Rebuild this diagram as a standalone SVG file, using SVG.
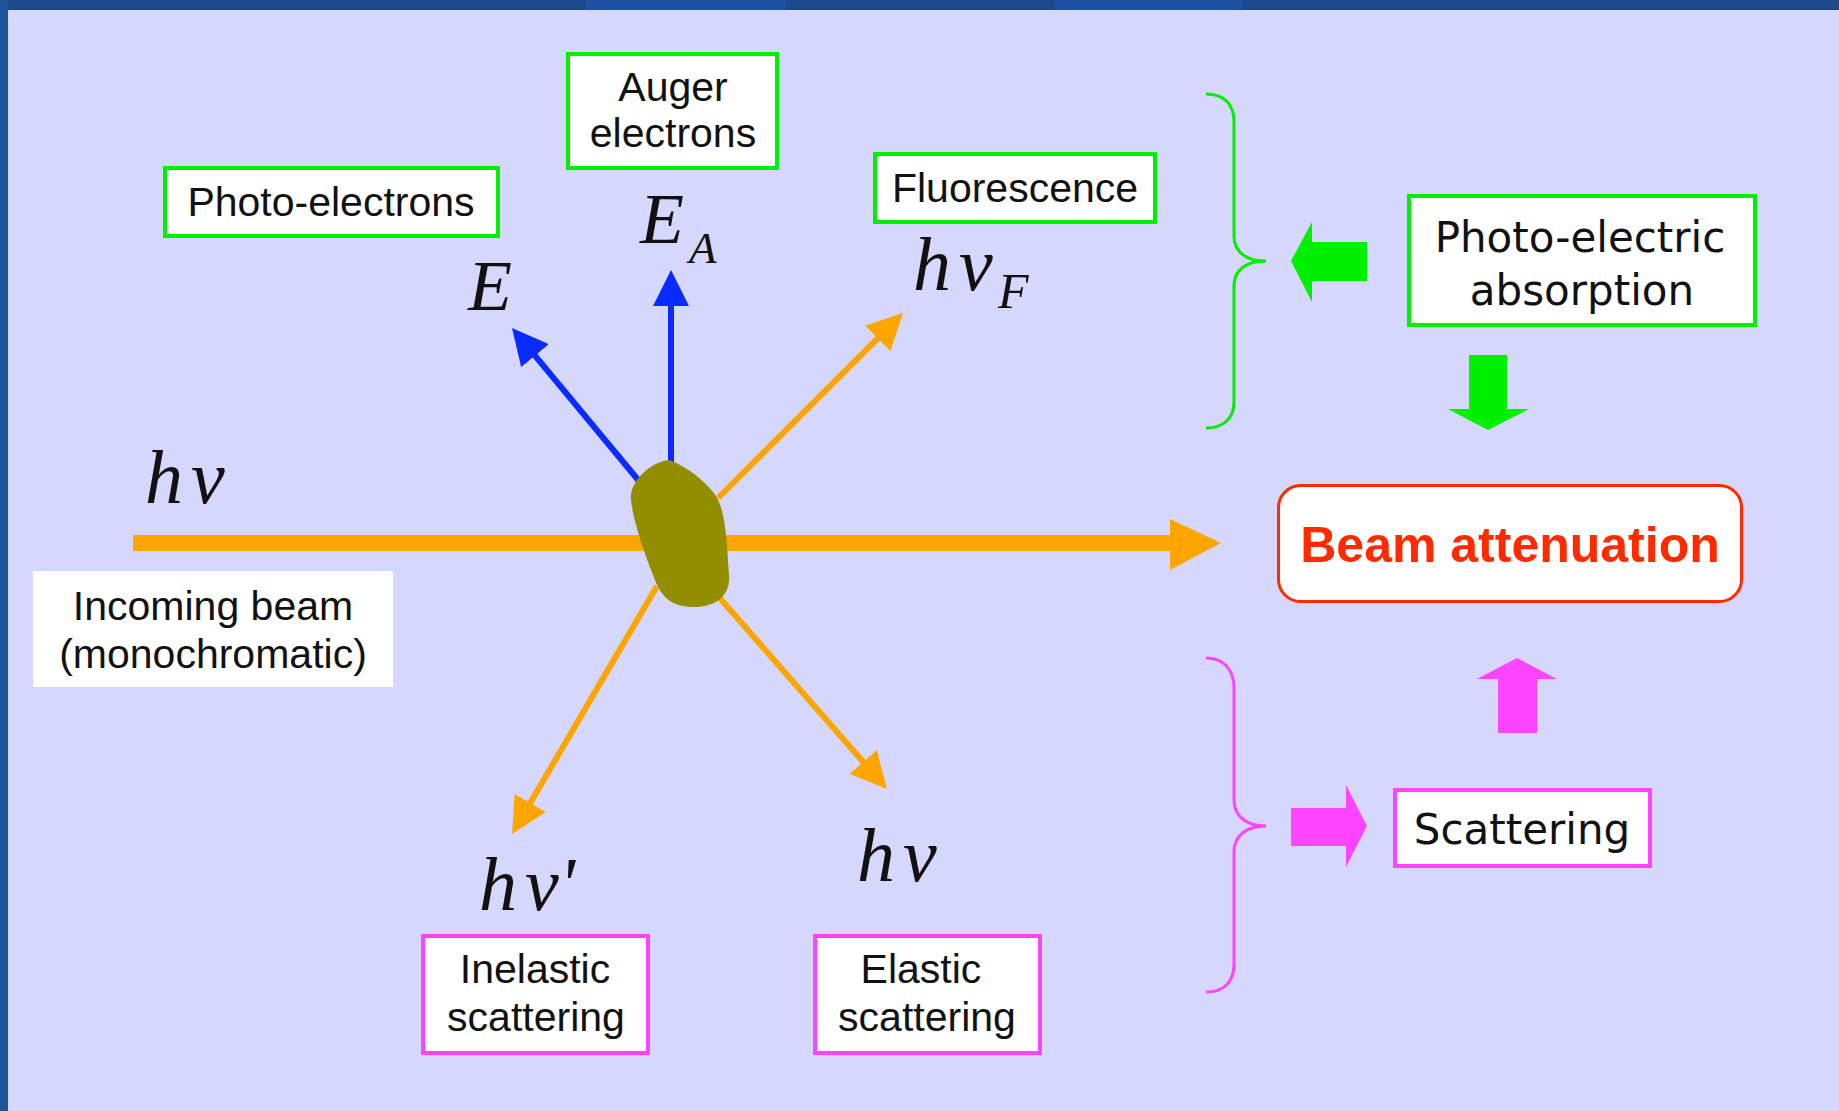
<svg xmlns="http://www.w3.org/2000/svg" width="1839" height="1111" viewBox="0 0 1839 1111">
<defs>
<style>
.lbl{font-family:"Liberation Sans",Arial,sans-serif;font-size:41px;fill:#111;text-anchor:middle}
.lbl2{font-family:"DejaVu Sans",Verdana,sans-serif;font-size:42px;fill:#111;text-anchor:middle}
.math{font-family:"Liberation Serif","Times New Roman",serif;font-style:italic;fill:#111}
.gbox{fill:#fff;stroke:#00F000;stroke-width:4}
.mbox{fill:#fff;stroke:#FF44FF;stroke-width:4}
.blue{stroke:#0A2BFF;stroke-width:6;fill:none}
.orng{stroke:#FFA500;stroke-width:6;fill:none}
</style>
<marker id="hb" markerUnits="userSpaceOnUse" markerWidth="36" markerHeight="36" viewBox="0 0 36 36" refX="26" refY="18" orient="auto"><path d="M0,0 L36,18 L0,36 Z" fill="#0A2BFF"/></marker>
<marker id="ho" markerUnits="userSpaceOnUse" markerWidth="36" markerHeight="36" viewBox="0 0 36 36" refX="26" refY="18" orient="auto"><path d="M0,0 L36,18 L0,36 Z" fill="#FFA500"/></marker>
</defs>
<rect x="0" y="0" width="1839" height="1111" fill="#D5D7FC"/>
<rect x="0" y="0" width="1839" height="10" fill="#1B4A8C"/>
<rect x="586" y="0" width="200" height="10" fill="#1D52A2"/>
<rect x="1055" y="0" width="188" height="10" fill="#1D52A2"/>
<rect x="0" y="0" width="8" height="1111" fill="#1A5699"/>

<g id="connectors">
<line class="blue" x1="671" y1="463" x2="671" y2="280" marker-end="url(#hb)"/>
<line class="blue" x1="639" y1="481" x2="518.4" y2="335.7" marker-end="url(#hb)"/>
<line class="orng" x1="718" y1="498" x2="895.9" y2="320.1" marker-end="url(#ho)"/>
<line class="orng" x1="657" y1="586" x2="517.1" y2="825.4" marker-end="url(#ho)"/>
<line class="orng" x1="718" y1="596" x2="880.4" y2="781.5" marker-end="url(#ho)"/>
<rect x="133" y="535" width="1038" height="16" fill="#FFA500"/>
<polygon points="1170,519 1221,543 1170,570" fill="#FFA500"/>
<path d="M1206 94 C1224 94 1234 104 1234 122 L1234 236 C1234 252 1246 261 1266 261 C1246 261 1234 270 1234 286 L1234 402 C1234 418 1224 428 1206 428" fill="none" stroke="#00F000" stroke-width="3"/>
<path d="M1206 658 C1224 658 1234 670 1234 688 L1234 800 C1234 816 1246 826 1266 826 C1246 826 1234 836 1234 852 L1234 964 C1234 982 1224 992 1206 992" fill="none" stroke="#FF44FF" stroke-width="3"/>
<polygon points="1291,261 1312,222 1312,242 1367,242 1367,281 1312,281 1312,302" fill="#00F000"/>
<polygon points="1469,355 1507,355 1507,409 1529,409 1488,430 1448,409 1469,409" fill="#00F000"/>
<polygon points="1517,658 1557,679 1537,679 1537,733 1498,733 1498,679 1477,679" fill="#FF44FF"/>
<polygon points="1291,808 1346,808 1346,785 1367,826 1346,867 1346,846 1291,846" fill="#FF44FF"/>
</g>

<g id="sample">
<path d="M669 460 C690 468 708 484 716 496 C726 512 727 545 729 575 C731 598 712 608 692 607 C672 606 662 598 655 580 C643 550 633 520 631 500 C629 482 650 462 669 460 Z" fill="#938D00"/>
</g>

<g id="incoming">
<rect x="33" y="571" width="360" height="116" fill="#fff"/>
<text class="lbl" x="213" y="620">Incoming beam</text>
<text class="lbl" x="213" y="668">(monochromatic)</text>
</g>
<g id="photoelectrons">
<rect class="gbox" x="165" y="168" width="333" height="68"/>
<text class="lbl" x="331" y="216">Photo-electrons</text>
</g>
<g id="auger">
<rect class="gbox" x="568" y="54" width="209" height="114"/>
<text class="lbl" x="673" y="101">Auger</text>
<text class="lbl" x="673" y="147">electrons</text>
</g>
<g id="fluorescence">
<rect class="gbox" x="875" y="154" width="280" height="68"/>
<text class="lbl" x="1015" y="202">Fluorescence</text>
</g>
<g id="photoelectric">
<rect class="gbox" x="1409" y="196" width="346" height="129"/>
<text class="lbl2" x="1580" y="252">Photo-electric</text>
<text class="lbl2" x="1582" y="305">absorption</text>
</g>
<g id="attenuation">
<rect x="1278.5" y="485.5" width="463" height="116" rx="22" fill="#fff" stroke="#FF2A00" stroke-width="3"/>
<text x="1510" y="562" text-anchor="middle" style="font-family:'Liberation Sans',Arial,sans-serif;font-weight:bold;font-size:50px;fill:#FF2A00">Beam attenuation</text>
</g>
<g id="scattering">
<rect class="mbox" x="1395" y="790" width="255" height="76"/>
<text class="lbl2" x="1522" y="844">Scattering</text>
</g>
<g id="inelastic">
<rect class="mbox" x="423" y="936" width="225" height="117"/>
<text class="lbl" x="535" y="983">Inelastic</text>
<text class="lbl" x="536" y="1031">scattering</text>
</g>
<g id="elastic">
<rect class="mbox" x="815" y="936" width="225" height="117"/>
<text class="lbl" x="921" y="983">Elastic</text>
<text class="lbl" x="927" y="1031">scattering</text>
</g>

<g id="math-labels">
<text class="math" x="145" y="503" font-size="76">h<tspan dx="8">ν</tspan></text>
<text class="math" x="468" y="310" font-size="72">E</text>
<text class="math" x="640" y="243" font-size="72">E<tspan x="689" y="263" font-size="45">A</tspan></text>
<text class="math" x="913" y="290" font-size="76">h<tspan dx="8">ν</tspan><tspan x="998" y="308" font-size="50">F</tspan></text>
<text class="math" x="479" y="910" font-size="76">h<tspan dx="8">ν'</tspan></text>
<text class="math" x="857" y="881" font-size="76">h<tspan dx="8">ν</tspan></text>
</g>
</svg>
